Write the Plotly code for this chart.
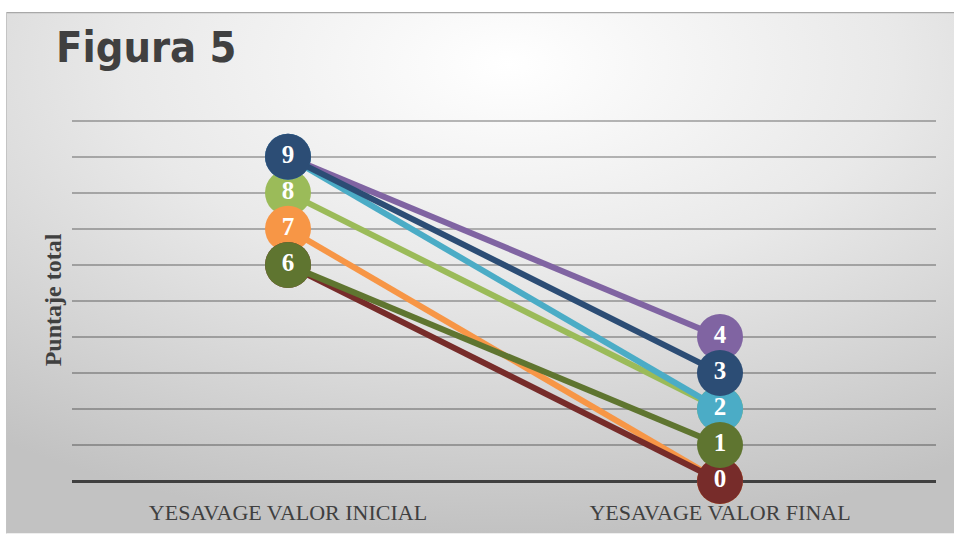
import base64
import plotly.graph_objects as go

# Yesavage depression scale: score at start and at end for each patient
categorias = ["YESAVAGE VALOR INICIAL", "YESAVAGE VALOR FINAL"]
pacientes = ["Paciente 1", "Paciente 2", "Paciente 3", "Paciente 4",
             "Paciente 5", "Paciente 6", "Paciente 7"]
valor_inicial = [9, 8, 9, 7, 6, 6, 9]
valor_final = [4, 2, 2, 0, 0, 1, 3]
colores = ["#8064A2", "#9BBB59", "#4BACC6", "#F79646",
           "#772C2A", "#5F7530", "#2C4D75"]

W, H = 954, 537
y_max = 10.05
margin = dict(l=72, r=18, t=119, b=53)
plot_w = W - margin["l"] - margin["r"]
plot_h = H - margin["t"] - margin["b"]

# chart-area frame (pixels) converted to paper coordinates
frame_x0, frame_y0, frame_x1, frame_y1 = 6, 11, W, H
px = lambda x: (x - margin["l"]) / plot_w
py = lambda y: (H - margin["b"] - y) / plot_h

svg = f"""<svg xmlns='http://www.w3.org/2000/svg' width='948' height='526' viewBox='0 0 948 526' preserveAspectRatio='none'>
<defs><radialGradient id='g' cx='0.53' cy='0.1' r='0.9' fx='0.53' fy='0.1'>
<stop offset='0' stop-color='#ffffff'/>
<stop offset='0.45' stop-color='#e9e9e9'/>
<stop offset='1' stop-color='#c2c2c2'/>
</radialGradient></defs>
<rect x='0' y='0' width='948' height='526' fill='url(#g)'/>
<line x1='0' y1='0.5' x2='948' y2='0.5' stroke='#a8a8a8' stroke-width='1.5'/>
<line x1='0.5' y1='0' x2='0.5' y2='526' stroke='#c4c4c4' stroke-width='1'/>
</svg>"""
fondo = "data:image/svg+xml;base64," + base64.b64encode(svg.encode()).decode()

serif = "Liberation Serif, DejaVu Serif, serif"

fig = go.Figure()
for nombre, ini, fin, color in zip(pacientes, valor_inicial, valor_final, colores):
    valores = [ini, fin]
    fig.add_trace(go.Scatter(
        x=categorias, y=valores, name=nombre,
        mode="lines+markers+text",
        line=dict(color=color, width=6),
        marker=dict(color=color, size=46, line=dict(width=0)),
        text=[str(v) for v in valores],
        textposition="middle center",
        textfont=dict(family=serif, size=25, color="white", weight="bold"),
        cliponaxis=False,
        hoverinfo="skip",
    ))

fig.add_layout_image(
    source=fondo, xref="paper", yref="paper",
    x=px(frame_x0), y=py(frame_y0),
    sizex=px(frame_x1) - px(frame_x0), sizey=py(frame_y0) - py(frame_y1),
    xanchor="left", yanchor="top", sizing="stretch", layer="below",
)

fig.update_layout(
    width=W, height=H, margin=margin,
    paper_bgcolor="white", plot_bgcolor="rgba(0,0,0,0)",
    showlegend=False,
    title=dict(text="<b>Figura 5</b>", x=56 / W, xanchor="left",
               y=1 - 32 / H, yanchor="top",
               font=dict(family="Liberation Sans Narrow, DejaVu Sans Condensed, sans-serif",
                         size=43, color="#404040")),
    xaxis=dict(type="category", range=[-0.5, 1.5], showgrid=False,
               showline=False, zeroline=False, ticks="",
               tickfont=dict(family=serif, size=22, color="#404040"),
               ticklabelstandoff=16),
    yaxis=dict(range=[0, y_max], dtick=1, showticklabels=False, ticks="",
               showgrid=True, gridcolor="rgba(0,0,0,0.27)", gridwidth=1.5,
               zeroline=True, zerolinecolor="#404040", zerolinewidth=3,
               title=dict(text="<b>Puntaje total</b>", standoff=2,
                          font=dict(family=serif, size=24, color="#404040"))),
)

fig.write_html("out.html")
